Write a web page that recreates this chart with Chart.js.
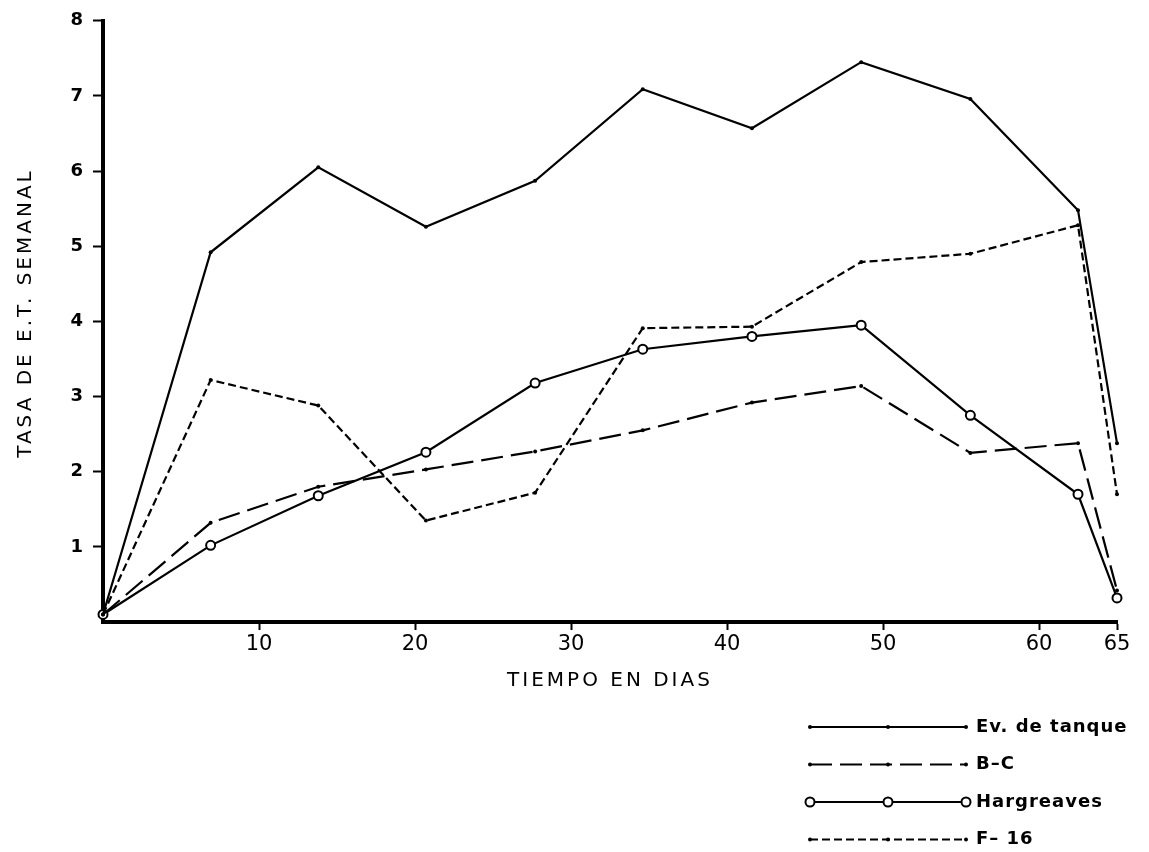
<!DOCTYPE html>
<html lang="es">
<head>
<meta charset="UTF-8">
<title>Tasa de E.T. semanal</title>
<script src="https://cdn.jsdelivr.net/npm/chart.js"></script>
<style>
  html, body { margin: 0; padding: 0; background: #fff; }
  .chart-container { position: relative; width: 1149px; height: 852px; }
</style>
</head>
<body>
<div class="chart-container"><canvas id="chart"></canvas></div>
<script>
// measurement days and weekly E.T. rates per method
const dias = [0, 6.9, 13.8, 20.7, 27.7, 34.6, 41.6, 48.6, 55.6, 62.5, 65];
const evTanque   = [0.1, 4.92, 6.05, 5.26, 5.87, 7.09, 6.57, 7.45, 6.96, 5.48, 2.38];
const bc         = [0.1, 1.32, 1.80, 2.03, 2.27, 2.55, 2.92, 3.14, 2.25, 2.38, 0.42];
const hargreaves = [0.1, 1.02, 1.68, 2.26, 3.18, 3.63, 3.80, 3.95, 2.75, 1.70, 0.32];
const f16        = [0.1, 3.22, 2.88, 1.35, 1.72, 3.91, 3.93, 4.79, 4.90, 5.28, 1.70];

const seriesNames = ['Ev. de tanque', 'B\u2013C', 'Hargreaves', 'F\u2013 16'];
const xTicks = [10, 20, 30, 40, 50, 60, 65];
const yTicks = [1, 2, 3, 4, 5, 6, 7, 8];
const xTitle = 'TIEMPO EN DIAS';
const yTitle = 'TASA DE E.T. SEMANAL';

Chart.defaults.font.family = '"DejaVu Sans", sans-serif';
Chart.defaults.color = '#000';

const toPoints = vals => vals.map((v, i) => ({ x: dias[i], y: v }));

const baseSet = {
    borderColor: '#000',
    backgroundColor: '#000',
    borderWidth: 2.2,
    pointRadius: 2,
    pointBorderWidth: 0,
    tension: 0,
    fill: false
};

const datasets = [
    { ...baseSet, label: seriesNames[0], data: toPoints(evTanque) },
    { ...baseSet, label: seriesNames[1], data: toPoints(bc), borderDash: [22, 8] },
    { ...baseSet, label: seriesNames[2], data: toPoints(hargreaves),
      pointRadius: 4.5, pointBorderWidth: 2, pointBackgroundColor: '#fff', pointBorderColor: '#000' },
    { ...baseSet, label: seriesNames[3], data: toPoints(f16), borderDash: [8, 4] }
];

// axis titles, drawn with wide letter spacing
const axisTitles = {
    id: 'axisTitles',
    afterDraw(chart) {
        const { ctx, chartArea } = chart;
        ctx.save();
        ctx.fillStyle = '#000';
        ctx.font = '20px "DejaVu Sans"';
        ctx.letterSpacing = '3px';
        ctx.textAlign = 'center';
        ctx.textBaseline = 'middle';
        ctx.fillText(xTitle, (chartArea.left + chartArea.right) / 2, 681);
        ctx.translate(26, 313);
        ctx.rotate(-Math.PI / 2);
        ctx.fillText(yTitle, 0, 0);
        ctx.restore();
    }
};

// key in the lower right corner
const cornerLegend = {
    id: 'cornerLegend',
    afterDraw(chart) {
        const ctx = chart.ctx;
        const x0 = 810, x1 = 966, textX = 976;
        chart.data.datasets.forEach((ds, i) => {
            const y = 727 + i * 37.5;
            ctx.save();
            ctx.strokeStyle = '#000';
            ctx.lineWidth = 2;
            ctx.setLineDash(ds.borderDash || []);
            ctx.beginPath();
            ctx.moveTo(x0, y);
            ctx.lineTo(x1, y);
            ctx.stroke();
            ctx.setLineDash([]);
            [x0, (x0 + x1) / 2, x1].forEach(px => {
                ctx.beginPath();
                if (ds.pointBackgroundColor === '#fff') {
                    ctx.arc(px, y, 4.5, 0, Math.PI * 2);
                    ctx.fillStyle = '#fff';
                    ctx.fill();
                    ctx.stroke();
                } else {
                    ctx.arc(px, y, 2, 0, Math.PI * 2);
                    ctx.fillStyle = '#000';
                    ctx.fill();
                }
            });
            ctx.fillStyle = '#000';
            ctx.font = 'bold 18px "DejaVu Sans"';
            ctx.letterSpacing = '1px';
            ctx.textAlign = 'left';
            ctx.textBaseline = 'middle';
            ctx.fillText(ds.label, textX, y);
            ctx.restore();
        });
    }
};

new Chart(document.getElementById('chart'), {
    type: 'line',
    data: { datasets },
    options: {
        responsive: true,
        maintainAspectRatio: false,
        animation: false,
        clip: false,
        layout: { padding: { top: 16, right: 32, left: 0, bottom: 0 } },
        plugins: { legend: { display: false }, tooltip: { enabled: false } },
        scales: {
            x: {
                type: 'linear',
                min: 0,
                max: 65,
                afterBuildTicks: s => { s.ticks = xTicks.map(v => ({ value: v })); },
                afterFit: s => { s.height = 230; },
                ticks: { font: { size: 21 }, padding: 2, maxRotation: 0, autoSkip: false },
                grid: { drawOnChartArea: false, tickLength: 8, tickWidth: 2, tickColor: '#000' },
                border: { width: 4, color: '#000' }
            },
            y: {
                min: 0,
                max: 8,
                afterBuildTicks: s => { s.ticks = yTicks.map(v => ({ value: v })); },
                afterFit: s => { s.width = 103; },
                ticks: { font: { size: 18, weight: 'bold' }, padding: 10 },
                grid: { drawOnChartArea: false, tickLength: 10, tickWidth: 2, tickColor: '#000' },
                border: { width: 4, color: '#000' }
            }
        }
    },
    plugins: [axisTitles, cornerLegend]
});
</script>
</body>
</html>
